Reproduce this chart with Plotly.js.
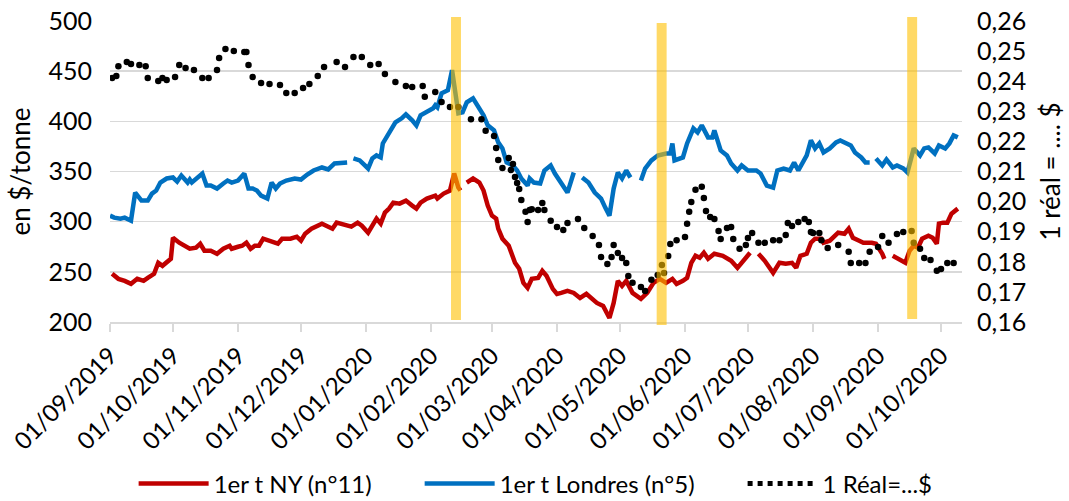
<!DOCTYPE html>
<html>
<head>
<meta charset="utf-8">
<script src="https://cdn.plot.ly/plotly-3.0.1.min.js"></script>
<style>html,body{margin:0;padding:0;background:#fff;}#chart{width:1069px;height:501px;}</style>
</head>
<body>
<div id="chart"></div>
<script>
// 1er terme New York (n°11), $/tonne
const nyDates = ['2019-09-02','2019-09-05','2019-09-08','2019-09-11','2019-09-14','2019-09-17','2019-09-19','2019-09-22','2019-09-24','2019-09-26','2019-09-30',
'2019-10-01','2019-10-04','2019-10-09','2019-10-12','2019-10-14','2019-10-16','2019-10-19','2019-10-22','2019-10-25','2019-10-28','2019-10-29',
'2019-11-01','2019-11-03','2019-11-05','2019-11-07','2019-11-09','2019-11-11','2019-11-13','2019-11-16','2019-11-20','2019-11-22','2019-11-26','2019-11-29',
'2019-12-01','2019-12-03','2019-12-06','2019-12-11','2019-12-13','2019-12-16','2019-12-18','2019-12-21','2019-12-25','2019-12-28','2019-12-30',
'2020-01-02','2020-01-04','2020-01-06','2020-01-08','2020-01-10','2020-01-12','2020-01-14','2020-01-17','2020-01-20','2020-01-23','2020-01-25','2020-01-27','2020-01-30',
'2020-02-03','2020-02-04','2020-02-07','2020-02-10','2020-02-12','2020-02-14','2020-02-15','2020-02-16','2020-02-18','2020-02-21','2020-02-24','2020-02-26','2020-02-28',
'2020-03-01','2020-03-03','2020-03-04','2020-03-06','2020-03-09','2020-03-12','2020-03-14','2020-03-16','2020-03-18','2020-03-20','2020-03-23','2020-03-25','2020-03-27','2020-03-30',
'2020-04-01','2020-04-03','2020-04-06','2020-04-09','2020-04-12','2020-04-15','2020-04-17','2020-04-20','2020-04-23','2020-04-26','2020-04-28','2020-04-30',
'2020-05-02','2020-05-04','2020-05-07','2020-05-11','2020-05-14','2020-05-17','2020-05-20','2020-05-23','2020-05-26','2020-05-28','2020-05-31',
'2020-06-02','2020-06-04','2020-06-06','2020-06-08','2020-06-10','2020-06-12','2020-06-15','2020-06-19','2020-06-21','2020-06-23','2020-06-26','2020-06-28',
'2020-07-01','2020-07-02','2020-07-04','2020-07-06','2020-07-09','2020-07-13','2020-07-16','2020-07-19','2020-07-22','2020-07-24','2020-07-26','2020-07-29','2020-07-31',
'2020-08-02','2020-08-05','2020-08-06','2020-08-09','2020-08-13','2020-08-16','2020-08-18','2020-08-20','2020-08-23','2020-08-25','2020-08-29','2020-08-31',
'2020-09-03','2020-09-04','2020-09-06','2020-09-08','2020-09-11','2020-09-14','2020-09-16','2020-09-18','2020-09-20','2020-09-22','2020-09-25','2020-09-27','2020-09-29','2020-09-30',
'2020-10-02','2020-10-04','2020-10-06','2020-10-09'];
const nyValues = [248,243,241,238,243,241,244,248,259,256,263,
284,279,273,274,278,271,271,268,273,276,273,
275,276,279,273,276,276,283,281,278,283,283,285,
281,288,293,298,296,293,299,297,295,299,296,
289,296,303,298,309,313,319,318,321,316,313,319,323,
326,323,328,331,348,334,331,null,339,343,339,331,316,
306,303,293,283,276,259,253,239,234,243,244,251,246,233,
228,229,231,229,224,228,224,219,216,204,219,241,
236,241,229,223,229,239,243,239,243,238,241,
244,259,266,264,269,263,268,266,263,261,254,259,
268,269,null,268,261,249,259,258,259,254,266,268,279,
283,283,279,281,289,288,293,284,281,279,279,278,
268,263,null,266,263,259,271,276,274,283,286,284,278,298,
299,299,308,313];

// 1er terme Londres (n°5), $/tonne
const ldDates = ['2019-09-01','2019-09-03','2019-09-06','2019-09-08','2019-09-11','2019-09-13','2019-09-16','2019-09-19','2019-09-21','2019-09-23','2019-09-25','2019-09-28',
'2019-10-01','2019-10-03','2019-10-05','2019-10-08','2019-10-09','2019-10-10','2019-10-15','2019-10-17','2019-10-19','2019-10-22','2019-10-25','2019-10-27','2019-10-29',
'2019-11-01','2019-11-04','2019-11-06','2019-11-08','2019-11-10','2019-11-12','2019-11-15','2019-11-17','2019-11-19','2019-11-21','2019-11-24','2019-11-28',
'2019-12-01','2019-12-04','2019-12-07','2019-12-11','2019-12-14','2019-12-17','2019-12-21','2019-12-23','2019-12-24','2019-12-26','2019-12-29',
'2020-01-02','2020-01-04','2020-01-06','2020-01-08','2020-01-09','2020-01-12','2020-01-15','2020-01-18','2020-01-20','2020-01-23','2020-01-25','2020-01-27','2020-01-30',
'2020-02-02','2020-02-03','2020-02-04','2020-02-06','2020-02-09','2020-02-11','2020-02-13','2020-02-14','2020-02-16','2020-02-18','2020-02-21','2020-02-23','2020-02-26','2020-02-28',
'2020-03-02','2020-03-04','2020-03-06','2020-03-08','2020-03-11','2020-03-13','2020-03-15','2020-03-18','2020-03-19','2020-03-21','2020-03-24','2020-03-26','2020-03-29','2020-03-31',
'2020-04-03','2020-04-06','2020-04-09','2020-04-11','2020-04-13','2020-04-16','2020-04-19','2020-04-22','2020-04-24','2020-04-26','2020-04-28','2020-04-30',
'2020-05-02','2020-05-04','2020-05-06','2020-05-08','2020-05-11','2020-05-13','2020-05-16','2020-05-19','2020-05-23','2020-05-25','2020-05-26','2020-05-27','2020-05-31',
'2020-06-02','2020-06-05','2020-06-07','2020-06-09','2020-06-12','2020-06-14','2020-06-15','2020-06-18','2020-06-21','2020-06-23','2020-06-26','2020-06-28',
'2020-07-01','2020-07-05','2020-07-07','2020-07-10','2020-07-13','2020-07-15','2020-07-18','2020-07-21','2020-07-23','2020-07-25','2020-07-28','2020-07-29','2020-07-31',
'2020-08-02','2020-08-04','2020-08-06','2020-08-09','2020-08-12','2020-08-14','2020-08-17','2020-08-19','2020-08-21','2020-08-24','2020-08-26','2020-08-28','2020-08-29','2020-08-31',
'2020-09-03','2020-09-05','2020-09-08','2020-09-10','2020-09-13','2020-09-15','2020-09-17','2020-09-18','2020-09-21','2020-09-23','2020-09-25','2020-09-28','2020-09-30',
'2020-10-03','2020-10-05','2020-10-07','2020-10-09'];
const ldValues = [306,304,303,304,301,329,321,321,328,331,339,343,
344,340,346,339,342,339,348,336,336,333,338,341,339,
341,348,333,333,331,326,323,339,333,338,341,343,
342,347,351,354,352,358,359,359,null,363,361,
353,363,366,364,378,388,399,403,407,401,396,406,409,
413,416,414,428,431,451,423,408,409,419,423,416,406,396,
391,379,373,359,356,351,343,336,343,339,338,351,356,348,
338,329,349,null,344,339,329,323,314,306,333,349,
343,351,344,null,341,353,361,366,368,368,378,361,364,
378,393,389,396,384,384,391,371,366,358,351,356,
351,351,348,336,334,351,353,351,359,351,364,366,381,
373,378,369,373,379,381,378,376,369,364,359,359,null,363,
356,362,354,356,353,349,363,373,366,373,374,368,376,
373,378,386,384];

// 1 Réal = ... $
const brlDates = ['2019-09-02','2019-09-04','2019-09-05','2019-09-09','2019-09-11','2019-09-15','2019-09-18','2019-09-19','2019-09-24','2019-09-26','2019-09-28',
'2019-10-02','2019-10-04','2019-10-07','2019-10-11','2019-10-15','2019-10-18','2019-10-22','2019-10-23','2019-10-26','2019-10-30',
'2019-11-04','2019-11-05','2019-11-06','2019-11-08','2019-11-12','2019-11-16','2019-11-21','2019-11-24','2019-11-28',
'2019-12-02','2019-12-05','2019-12-09','2019-12-12','2019-12-18','2019-12-22','2019-12-26','2019-12-30',
'2020-01-03','2020-01-07','2020-01-10','2020-01-15','2020-01-20','2020-01-23','2020-01-28','2020-01-29',
'2020-02-03','2020-02-06','2020-02-10','2020-02-14','2020-02-20','2020-02-25','2020-02-27',
'2020-03-02','2020-03-03','2020-03-04','2020-03-06','2020-03-09','2020-03-10','2020-03-11','2020-03-12','2020-03-13','2020-03-14','2020-03-15','2020-03-17','2020-03-18','2020-03-19','2020-03-20','2020-03-23','2020-03-25','2020-03-26','2020-03-29',
'2020-04-01','2020-04-04','2020-04-06','2020-04-11','2020-04-14','2020-04-18','2020-04-21','2020-04-22','2020-04-25','2020-04-27','2020-04-28','2020-04-30',
'2020-05-02','2020-05-04','2020-05-05','2020-05-07','2020-05-11','2020-05-13','2020-05-16','2020-05-19','2020-05-21','2020-05-22','2020-05-24','2020-05-25','2020-05-28',
'2020-06-01','2020-06-02','2020-06-03','2020-06-04','2020-06-06','2020-06-09','2020-06-10','2020-06-11','2020-06-13','2020-06-15','2020-06-17','2020-06-18','2020-06-21','2020-06-23','2020-06-24','2020-06-27','2020-06-30',
'2020-07-01','2020-07-03','2020-07-06','2020-07-09','2020-07-13','2020-07-16','2020-07-19','2020-07-20','2020-07-22','2020-07-25','2020-07-28','2020-07-30','2020-07-31',
'2020-08-01','2020-08-04','2020-08-05','2020-08-08','2020-08-13','2020-08-18','2020-08-19','2020-08-23','2020-08-26','2020-08-28',
'2020-09-01','2020-09-03','2020-09-06','2020-09-10','2020-09-13','2020-09-17','2020-09-18','2020-09-21','2020-09-23','2020-09-26','2020-09-29',
'2020-10-01','2020-10-04','2020-10-07'];
const brlValues = [0.2411,0.2417,0.2450,0.2464,0.2457,0.2454,0.2450,0.2411,0.2401,0.2411,0.2404,
0.2414,0.2454,0.2444,0.2437,0.2411,0.2411,0.2437,0.2477,0.2507,0.2500,
0.2497,0.2497,0.2454,0.2414,0.2394,0.2391,0.2387,0.2361,0.2361,
0.2377,0.2391,0.2417,0.2447,0.2464,0.2447,0.2480,0.2480,
0.2454,0.2457,0.2424,0.2397,0.2384,0.2381,0.2384,0.2348,
0.2364,0.2331,0.2314,0.2314,0.2274,0.2274,0.2235,
0.2218,0.2178,0.2138,0.2112,0.2145,0.2105,0.2125,0.2082,0.2062,0.2042,0.2005,0.1966,0.1932,0.1972,0.1975,0.1972,0.1995,0.1972,0.1936,
0.1916,0.1906,0.1929,0.1942,0.1912,0.1886,0.1856,0.1816,0.1793,0.1816,0.1856,0.1829,
0.1813,0.1796,0.1753,0.1730,0.1716,0.1703,0.1740,0.1756,0.1789,0.1763,0.1819,0.1859,0.1872,
0.1882,0.1926,0.1966,0.1999,0.2039,0.2049,0.2012,0.1969,0.1949,0.1942,0.1902,0.1876,0.1912,0.1916,0.1876,0.1843,0.1856,
0.1879,0.1896,0.1863,0.1863,0.1872,0.1872,0.1889,0.1929,0.1919,0.1932,0.1942,0.1932,0.1899,
0.1896,0.1896,0.1872,0.1846,0.1856,0.1833,0.1796,0.1796,0.1796,0.1833,
0.1849,0.1886,0.1863,0.1892,0.1899,0.1902,0.1863,0.1843,0.1813,0.1806,0.1770,
0.1776,0.1796,0.1796];

// Highlighted periods (yellow bands)
const bandStarts = ['2020-02-10 12:00','2020-05-18 12:00','2020-09-14 21:00'];
const bandEnds   = ['2020-02-15 06:00','2020-05-23 06:00','2020-09-19 15:00'];
const bandBottoms = [0.007,-0.010,0.010];
const bandTops    = [1.013,0.993,1.013];

const seriesNames = ['1er t NY (n°11)','1er t Londres (n°5)','1 Réal=...$'];

const FONT = 'Lato, "Open Sans", "DejaVu Sans", sans-serif';
const PAD = '\u00A0\u00A0\u00A0\u00A0\u00A0\u00A0\u00A0';

const traces = [
  {x: nyDates, y: nyValues, name: seriesNames[0] + PAD, mode: 'lines', connectgaps: false,
   line: {color: '#C00000', width: 4.5}},
  {x: ldDates, y: ldValues, name: seriesNames[1] + PAD, mode: 'lines', connectgaps: false,
   line: {color: '#0070C0', width: 4.5}},
  {x: brlDates, y: brlValues, name: seriesNames[2], yaxis: 'y2', mode: 'markers', showlegend: false,
   marker: {color: '#000000', size: 6.5}},
  {x: [null], y: [null], name: seriesNames[2], yaxis: 'y2', mode: 'lines',
   line: {color: '#000000', width: 5, dash: 'dot'}}
];

const shapes = bandStarts.map((s, i) => ({
  type: 'rect', xref: 'x', yref: 'paper', x0: s, x1: bandEnds[i], y0: bandBottoms[i], y1: bandTops[i],
  fillcolor: 'rgba(255,192,0,0.6)', line: {width: 0}, layer: 'above'
}));

const layout = {
  width: 1069, height: 501,
  margin: {l: 110, r: 107, t: 21, b: 179, autoexpand: false},
  paper_bgcolor: '#ffffff', plot_bgcolor: '#ffffff',
  separators: ', ',
  font: {family: FONT, size: 25, color: '#000000'},
  showlegend: true,
  legend: {orientation: 'h', xref: 'container', yref: 'container', x: 0.125, xanchor: 'left', y: 0.034, yanchor: 'middle',
           font: {family: FONT, size: 24, color: '#000'}, itemwidth: 70},
  xaxis: {type: 'date', range: ['2019-09-01', '2020-10-11'], tick0: '2019-09-01', dtick: 'M1', automargin: false,
          tickformat: '%d/%m/%Y', tickangle: -45, ticks: 'outside', ticklen: 8, tickcolor: '#d9d9d9', tickwidth: 1.5,
          showline: true, linecolor: '#d9d9d9', linewidth: 2, showgrid: false, zeroline: false,
          tickfont: {family: FONT, size: 24, color: '#000'}},
  yaxis: {range: [200, 500], dtick: 50, tick0: 200, showgrid: true, gridcolor: '#d9d9d9', gridwidth: 1.5, automargin: false,
          zeroline: false, ticks: '', ticklabelstandoff: 17,
          title: {text: 'en $/tonne', font: {family: FONT, size: 26}, standoff: 10},
          tickfont: {family: FONT, size: 25, color: '#000'}},
  yaxis2: {overlaying: 'y', side: 'right', range: [0.16, 0.26], dtick: 0.01, tick0: 0.16, tickformat: '.2f', automargin: false,
           showgrid: false, zeroline: false, ticks: '', ticklabelstandoff: 14,
           title: {text: '1 réal = .... $', font: {family: FONT, size: 26}, standoff: 16},
           tickfont: {family: FONT, size: 25, color: '#000'}},
  shapes: shapes
};

Plotly.newPlot('chart', traces, layout, {displayModeBar: false, staticPlot: true});
</script>
</body>
</html>
